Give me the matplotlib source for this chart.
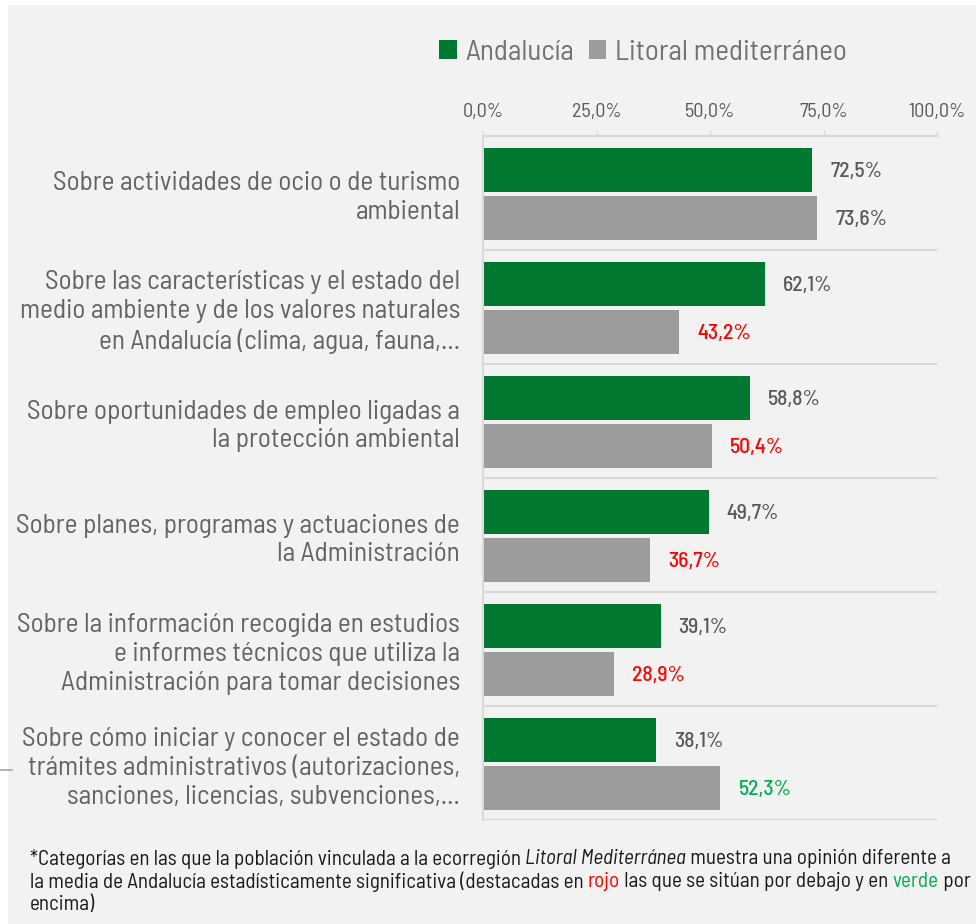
import matplotlib
matplotlib.use("Agg")
import matplotlib.pyplot as plt
from matplotlib.patches import Rectangle
from matplotlib.lines import Line2D

# datos
categorias = [
    "Sobre actividades de ocio o de turismo\nambiental",
    "Sobre las características y el estado del\nmedio ambiente y de los valores naturales\nen Andalucía (clima, agua, fauna,...",
    "Sobre oportunidades de empleo ligadas a\nla protección ambiental",
    "Sobre planes, programas y actuaciones de\nla Administración",
    "Sobre la información recogida en estudios\ne informes técnicos que utiliza la\nAdministración para tomar decisiones",
    "Sobre cómo iniciar y conocer el estado de\ntrámites administrativos (autorizaciones,\nsanciones, licencias, subvenciones,...",
]
andalucia = [72.5, 62.1, 58.8, 49.7, 39.1, 38.1]
litoral = [73.6, 43.2, 50.4, 36.7, 28.9, 52.3]
# 0 = sin diferencia, -1 = por debajo (rojo), 1 = por encima (verde)
significancia = [0, -1, -1, -1, -1, 1]
ticks = [0, 25, 50, 75, 100]
series = ["Andalucía", "Litoral mediterráneo"]

VERDE = "#00782f"
GRIS = "#9c9c9c"
TEXTO = "#595959"
ROJO = "#ff0000"
VERDE_TXT = "#00b050"
FONDO = "#f2f2f2"
LINEA = "#d9d9d9"

plt.rcParams["font.family"] = ["Barlow Semi Condensed", "DejaVu Sans"]

fig = plt.figure(figsize=(9.76, 9.24), dpi=100)
fig.patch.set_facecolor("white")
fig.add_artist(Rectangle((8 / 976, 0), 1, 1 - 5 / 924, transform=fig.transFigure,
                         facecolor=FONDO, edgecolor="none", zorder=-10))
fig.add_artist(Line2D([0, 12 / 976], [1 - 770 / 924] * 2, transform=fig.transFigure,
                      color="#a6a6a6", lw=1.2))

ax = fig.add_axes([483 / 976, 1 - 820 / 924, 454 / 976, 684 / 924])
ax.set_facecolor(FONDO)

n = len(categorias)
y_and = [i + 0.30 for i in range(n)]
y_lit = [i + 0.72 for i in range(n)]
ax.barh(y_and, andalucia, height=0.385, color=VERDE, label=series[0])
ax.barh(y_lit, litoral, height=0.385, color=GRIS, label=series[1])

for i in range(n):
    ax.annotate(f"{andalucia[i]:.1f}%".replace(".", ","), (andalucia[i], y_and[i]),
                xytext=(13, -1), textcoords="offset points", va="center", ha="left",
                fontsize=15.5, color=TEXTO, fontweight=500)
    col = {0: TEXTO, -1: ROJO, 1: VERDE_TXT}[significancia[i]]
    ax.annotate(f"{litoral[i]:.1f}%".replace(".", ","), (litoral[i], y_lit[i]),
                xytext=(13, -1), textcoords="offset points", va="center", ha="left",
                fontsize=15.5, color=col, fontweight=500)

ax.set_xlim(0, 100)
ax.set_ylim(n, 0)
ax.xaxis.tick_top()
ax.set_xticks(ticks)
ax.set_xticklabels([f"{t:.1f}%".replace(".", ",") for t in ticks])
ax.tick_params(axis="x", length=4, color=LINEA, labelcolor=TEXTO, labelsize=14.5, pad=7)
ax.set_yticks([i + 0.5 for i in range(n)])
ax.set_yticklabels(categorias, fontsize=19.6, color="#636363", linespacing=1.26)
ax.tick_params(axis="y", length=0, pad=16.5)
for lab in ax.get_yticklabels():
    lab.set_horizontalalignment("right")

for s in ["right", "bottom"]:
    ax.spines[s].set_visible(False)
for s in ["top", "left"]:
    ax.spines[s].set_color(LINEA)
    ax.spines[s].set_linewidth(1.5)
for i in range(1, n + 1):
    ax.axhline(i, color=LINEA, lw=1.5, zorder=0)

leg = fig.legend(loc="center", bbox_to_anchor=(643 / 976, 1 - 53 / 924), ncol=2,
                 frameon=False, fontsize=21, handlelength=0.6, handleheight=0.6,
                 handletextpad=0.3, columnspacing=0.5)
for t in leg.get_texts():
    t.set_color("#737373")

# nota al pie con tramos de distinto estilo
nota = [
    [("*Categorías en las que la población vinculada a la ecorregión ", {}),
     ("Litoral Mediterránea", {"style": "italic"}),
     (" muestra una opinión diferente a", {})],
    [("la media de Andalucía estadísticamente significativa (destacadas en ", {}),
     ("rojo", {"color": ROJO}),
     (" las que se sitúan por debajo y en ", {}),
     ("verde", {"color": VERDE_TXT}),
     (" por", {})],
    [("encima)", {})],
]
renderer = fig.canvas.get_renderer()


def ancho_linea(linea, fs):
    total = 0
    for txt, kw in linea:
        t = fig.text(0, 0, txt, fontsize=fs, **kw)
        total += t.get_window_extent(renderer=renderer).width
        t.remove()
    return total


# ajustar el tamaño para que la segunda línea ocupe lo mismo que en el original
fs_nota = 13.0
fs_nota *= 938 / ancho_linea(nota[1], fs_nota)

y0 = 859
for linea in nota:
    x = 30
    for txt, kw in linea:
        props = dict(fontsize=fs_nota, color="#1a1a1a", va="center", ha="left")
        props.update(kw)
        t = fig.text(x / 976, 1 - y0 / 924, txt, **props)
        x += t.get_window_extent(renderer=renderer).width
    y0 += 22.5

fig.savefig("out.png", dpi=100, facecolor=fig.get_facecolor())
